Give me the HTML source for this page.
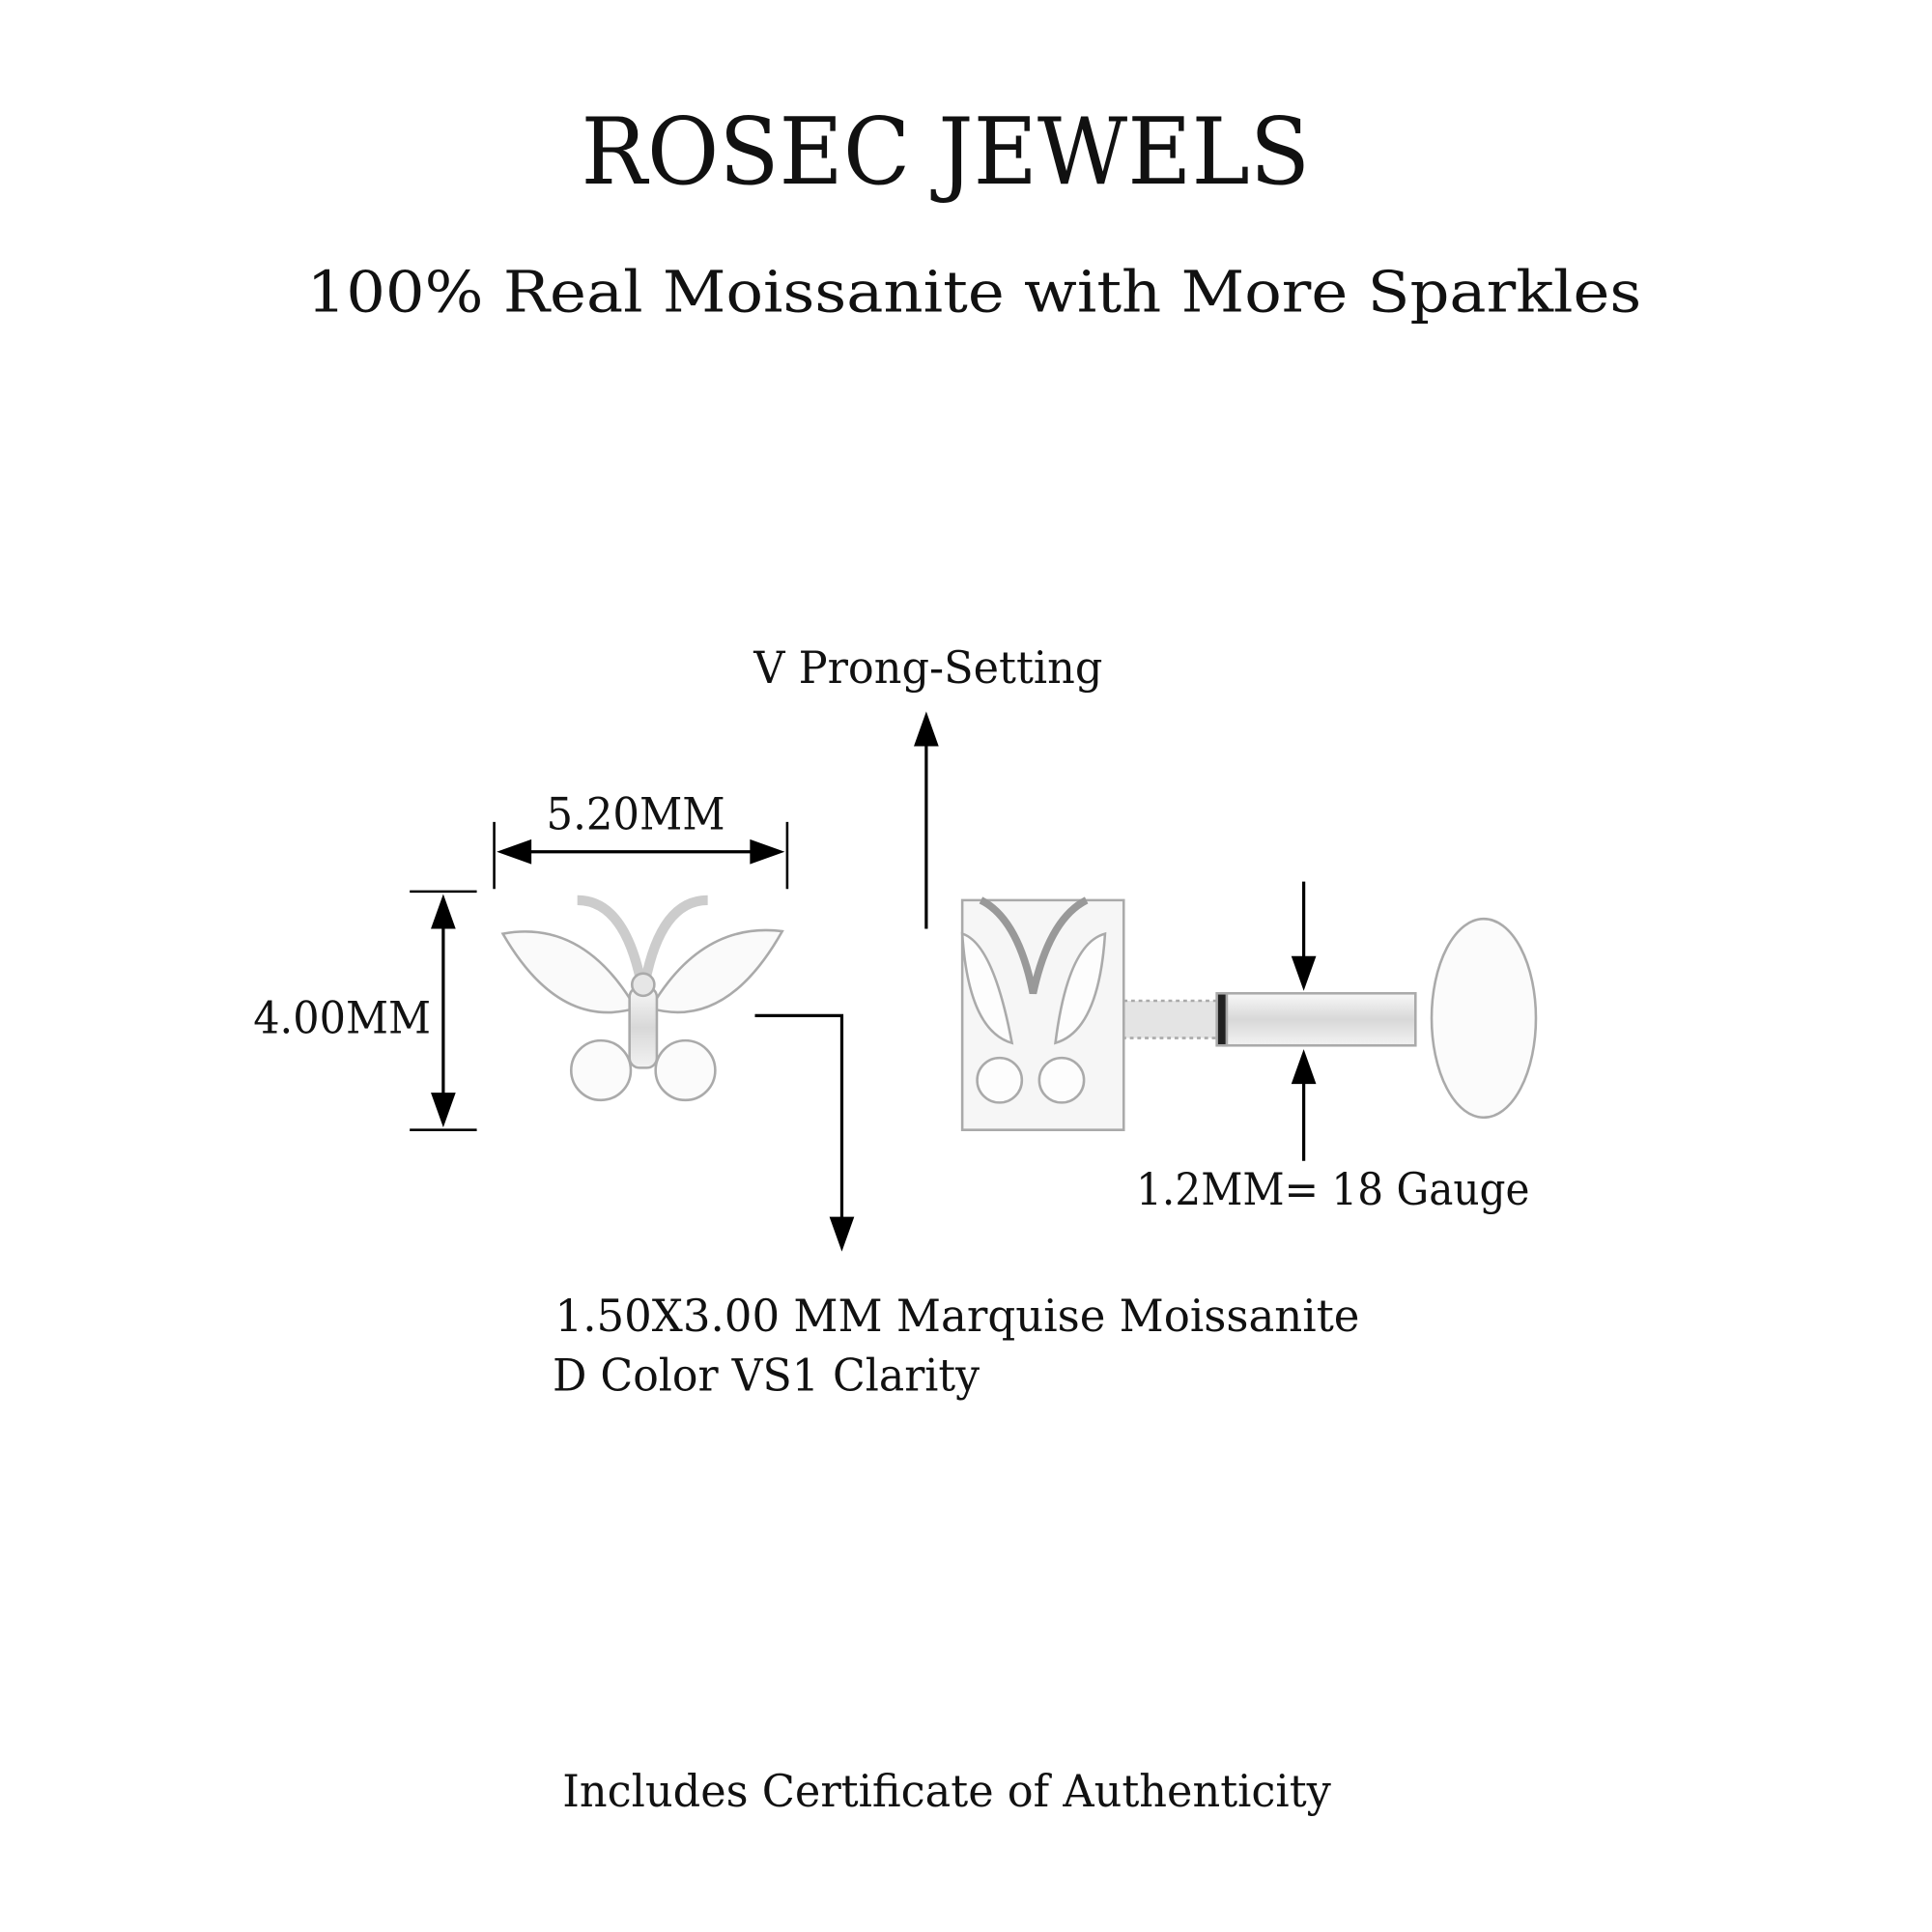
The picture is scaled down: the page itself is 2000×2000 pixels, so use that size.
<!DOCTYPE html>
<html><head><meta charset="utf-8"><style>
html,body{margin:0;padding:0;background:#fff;}
svg{display:block;}
text{font-family:"DejaVu Serif","Liberation Serif",serif;fill:#111;}
</style></head><body>
<svg width="2000" height="2000" viewBox="0 0 1556 1556" xmlns="http://www.w3.org/2000/svg">
<defs>
<linearGradient id="met" x1="0" y1="0" x2="0" y2="1"><stop offset="0" stop-color="#f8f8f8"/><stop offset="0.5" stop-color="#d8d8d8"/><stop offset="1" stop-color="#f2f2f2"/></linearGradient>
</defs>
<text x="468" y="148" font-size="74" textLength="587" lengthAdjust="spacingAndGlyphs">ROSEC JEWELS</text>
<text x="247" y="251" font-size="46" textLength="1075" lengthAdjust="spacingAndGlyphs">100% Real Moissanite with More Sparkles</text>

<line x1="398" y1="662" x2="398" y2="716" stroke="#000" stroke-width="2"/>
<line x1="634" y1="662" x2="634" y2="716" stroke="#000" stroke-width="2"/>
<line x1="420" y1="686" x2="612" y2="686" stroke="#000" stroke-width="2.5"/>
<path d="M400,686 L428,676 L428,696Z"/><path d="M632,686 L604,676 L604,696Z"/>
<text x="440" y="668" font-size="36" textLength="144" lengthAdjust="spacingAndGlyphs">5.20MM</text>

<line x1="330" y1="718" x2="384" y2="718" stroke="#000" stroke-width="2"/>
<line x1="330" y1="910" x2="384" y2="910" stroke="#000" stroke-width="2"/>
<line x1="357" y1="740" x2="357" y2="888" stroke="#000" stroke-width="2.5"/>
<path d="M357,720 L347,748 L367,748Z"/><path d="M357,908 L347,880 L367,880Z"/>
<text x="204" y="832" font-size="36" textLength="143" lengthAdjust="spacingAndGlyphs">4.00MM</text>

<g stroke="#aaa" stroke-width="2">
<path d="M465,725 Q505,725 518,800" fill="none" stroke="#ccc" stroke-width="8"/>
<path d="M570,725 Q530,725 518,800" fill="none" stroke="#ccc" stroke-width="8"/>
<path d="M405,752 Q470,740 512,812 Q450,830 405,752Z" fill="#fafafa"/>
<path d="M630,750 Q565,742 524,812 Q585,830 630,750Z" fill="#fafafa"/>
<circle cx="484" cy="862" r="24" fill="#fbfbfb"/>
<circle cx="552" cy="862" r="24" fill="#fbfbfb"/>
<rect x="507" y="795" width="22" height="65" rx="8" fill="url(#met)"/>
<circle cx="518" cy="793" r="9" fill="#e6e6e6"/>
</g>
<polyline points="608,818 678,818 678,985" fill="none" stroke="#000" stroke-width="2.5"/>
<path d="M678,1008 L668,980 L688,980Z"/>
<text x="447" y="1072" font-size="36" textLength="648" lengthAdjust="spacingAndGlyphs">1.50X3.00 MM Marquise Moissanite</text>
<text x="445" y="1120" font-size="36" textLength="344" lengthAdjust="spacingAndGlyphs">D Color VS1 Clarity</text>

<line x1="746" y1="598" x2="746" y2="748" stroke="#000" stroke-width="2.5"/>
<path d="M746,573 L736,601 L756,601Z"/>
<text x="607" y="550" font-size="36" textLength="281" lengthAdjust="spacingAndGlyphs">V Prong-Setting</text>

<g stroke="#aaa" stroke-width="2">
<ellipse cx="1195" cy="820" rx="42" ry="80" fill="#fbfbfb"/>
<rect x="985" y="800" width="155" height="42" fill="url(#met)"/>
<rect x="905" y="806" width="82" height="30" fill="#e4e4e4" stroke-dasharray="3 3"/>
<rect x="980" y="800" width="8" height="42" fill="#222"/>
<path d="M775,725 L905,725 L905,910 L775,910Z" fill="#f6f6f6"/>
<path d="M775,752 Q800,760 815,840 Q780,830 775,752Z" fill="#fdfdfd"/>
<path d="M890,752 Q860,760 850,840 Q885,830 890,752Z" fill="#fdfdfd"/>
<path d="M790,725 Q820,740 832,800 Q845,740 875,725" fill="none" stroke="#999" stroke-width="6"/>
<circle cx="805" cy="870" r="18" fill="#fdfdfd"/>
<circle cx="855" cy="870" r="18" fill="#fdfdfd"/>
</g>

<line x1="1050" y1="710" x2="1050" y2="775" stroke="#000" stroke-width="2.5"/>
<path d="M1050,798 L1040,770 L1060,770Z"/>
<line x1="1050" y1="868" x2="1050" y2="935" stroke="#000" stroke-width="2.5"/>
<path d="M1050,845 L1040,873 L1060,873Z"/>
<text x="915" y="970" font-size="36" textLength="317" lengthAdjust="spacingAndGlyphs">1.2MM= 18 Gauge</text>

<text x="453" y="1455" font-size="36" textLength="619" lengthAdjust="spacingAndGlyphs">Includes Certificate of Authenticity</text>
</svg>
</body></html>
